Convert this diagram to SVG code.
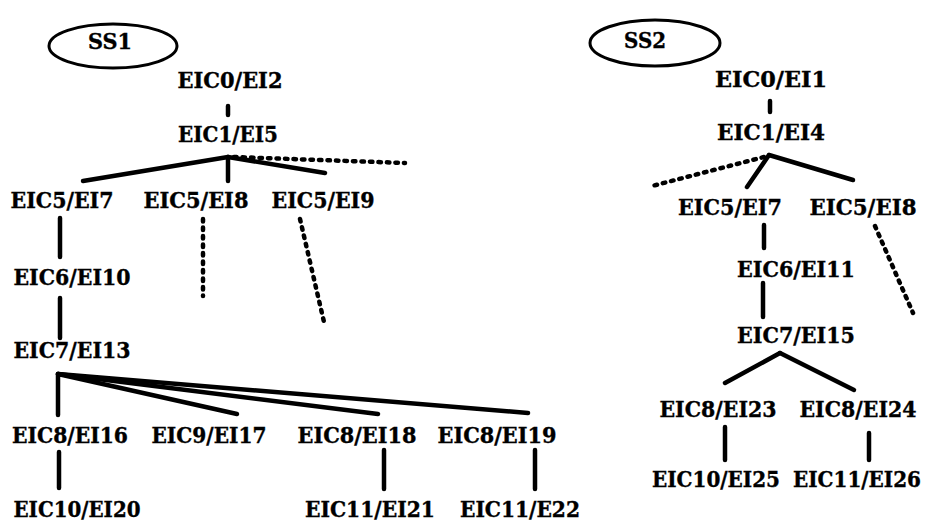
<svg xmlns="http://www.w3.org/2000/svg" width="935" height="522" viewBox="0 0 935 522">
<style>
text{font-family:"DejaVu Serif","Liberation Serif",serif;font-weight:bold;font-size:23px;fill:#000;text-anchor:middle;stroke:#000;stroke-width:0.4}
.s{stroke:#000;stroke-width:4.5;stroke-linecap:round;fill:none}
.d{stroke:#000;stroke-width:4.5;stroke-linecap:round;stroke-dasharray:2.5 6;fill:none}
ellipse{fill:none;stroke:#000;stroke-width:3}
</style>
<rect width="935" height="522" fill="#fff"/>
<g id="connectors">
<line class="s" x1="228" y1="106" x2="228" y2="115"/>
<line class="s" x1="228" y1="157" x2="83" y2="181"/>
<line class="s" x1="228" y1="157" x2="228" y2="181"/>
<line class="s" x1="228" y1="157" x2="325" y2="173"/>
<line class="d" x1="234" y1="157" x2="405" y2="163"/>
<line class="s" x1="60" y1="218" x2="60" y2="257"/>
<line class="s" x1="60" y1="298" x2="60" y2="338"/>
<line class="d" x1="203" y1="219" x2="203" y2="296"/>
<line class="d" x1="300" y1="219" x2="324" y2="322"/>
<line class="s" x1="58" y1="374" x2="58" y2="415"/>
<line class="s" x1="58" y1="374" x2="237" y2="414"/>
<line class="s" x1="58" y1="374" x2="378" y2="414"/>
<line class="s" x1="58" y1="374" x2="528" y2="413"/>
<line class="s" x1="59" y1="452" x2="59" y2="488"/>
<line class="s" x1="384" y1="450" x2="384" y2="489"/>
<line class="s" x1="535" y1="450" x2="535" y2="489"/>
<line class="s" x1="770" y1="101" x2="770" y2="112"/>
<line class="d" x1="764" y1="157" x2="652" y2="186"/>
<line class="s" x1="769" y1="155" x2="747" y2="187"/>
<line class="s" x1="769" y1="155" x2="853" y2="180"/>
<line class="s" x1="764" y1="225" x2="764" y2="248"/>
<line class="d" x1="875" y1="226" x2="913" y2="313"/>
<line class="s" x1="763" y1="283" x2="763" y2="317"/>
<line class="s" x1="780" y1="353" x2="725" y2="383"/>
<line class="s" x1="780" y1="353" x2="854" y2="390"/>
<line class="s" x1="725" y1="427" x2="725" y2="460"/>
<line class="s" x1="869" y1="433" x2="869" y2="460"/>
</g>
<g id="ss1"><ellipse cx="113" cy="46" rx="64" ry="22"/><text x="110" y="49" textLength="44" lengthAdjust="spacingAndGlyphs">SS1</text></g>
<g id="l-eic0-ei2"><text x="230" y="88" textLength="105" lengthAdjust="spacingAndGlyphs">EIC0/EI2</text></g>
<g id="l-eic1-ei5"><text x="228" y="142" textLength="100" lengthAdjust="spacingAndGlyphs">EIC1/EI5</text></g>
<g id="l-eic5-ei7"><text x="62" y="208" textLength="103" lengthAdjust="spacingAndGlyphs">EIC5/EI7</text></g>
<g id="l-eic5-ei8"><text x="196" y="208" textLength="105" lengthAdjust="spacingAndGlyphs">EIC5/EI8</text></g>
<g id="l-eic5-ei9"><text x="323" y="208" textLength="103" lengthAdjust="spacingAndGlyphs">EIC5/EI9</text></g>
<g id="l-eic6-ei10"><text x="72" y="285" textLength="117" lengthAdjust="spacingAndGlyphs">EIC6/EI10</text></g>
<g id="l-eic7-ei13"><text x="72" y="358" textLength="117" lengthAdjust="spacingAndGlyphs">EIC7/EI13</text></g>
<g id="l-eic8-ei16"><text x="70" y="443" textLength="116" lengthAdjust="spacingAndGlyphs">EIC8/EI16</text></g>
<g id="l-eic9-ei17"><text x="209" y="443" textLength="115" lengthAdjust="spacingAndGlyphs">EIC9/EI17</text></g>
<g id="l-eic8-ei18"><text x="357" y="443" textLength="119" lengthAdjust="spacingAndGlyphs">EIC8/EI18</text></g>
<g id="l-eic8-ei19"><text x="497" y="443" textLength="119" lengthAdjust="spacingAndGlyphs">EIC8/EI19</text></g>
<g id="l-eic10-ei20"><text x="77" y="517" textLength="127" lengthAdjust="spacingAndGlyphs">EIC10/EI20</text></g>
<g id="l-eic11-ei21"><text x="370" y="517" textLength="130" lengthAdjust="spacingAndGlyphs">EIC11/EI21</text></g>
<g id="l-eic11-e22"><text x="520" y="517" textLength="120" lengthAdjust="spacingAndGlyphs">EIC11/E22</text></g>
<g id="ss2"><ellipse cx="655" cy="43" rx="65" ry="23"/><text x="645" y="48" textLength="42" lengthAdjust="spacingAndGlyphs">SS2</text></g>
<g id="r-eic0-ei1"><text x="771" y="87" textLength="112" lengthAdjust="spacingAndGlyphs">EIC0/EI1</text></g>
<g id="r-eic1-ei4"><text x="771" y="140" textLength="108" lengthAdjust="spacingAndGlyphs">EIC1/EI4</text></g>
<g id="r-eic5-ei7"><text x="730" y="215" textLength="104" lengthAdjust="spacingAndGlyphs">EIC5/EI7</text></g>
<g id="r-eic5-ei8"><text x="863" y="215" textLength="107" lengthAdjust="spacingAndGlyphs">EIC5/EI8</text></g>
<g id="r-eic6-ei11"><text x="796" y="277" textLength="118" lengthAdjust="spacingAndGlyphs">EIC6/EI11</text></g>
<g id="r-eic7-ei15"><text x="796" y="343" textLength="118" lengthAdjust="spacingAndGlyphs">EIC7/EI15</text></g>
<g id="r-eic8-ei23"><text x="718" y="417" textLength="117" lengthAdjust="spacingAndGlyphs">EIC8/EI23</text></g>
<g id="r-eic8-ei24"><text x="858" y="417" textLength="117" lengthAdjust="spacingAndGlyphs">EIC8/EI24</text></g>
<g id="r-eic10-ei25"><text x="716" y="487" textLength="128" lengthAdjust="spacingAndGlyphs">EIC10/EI25</text></g>
<g id="r-eic11-ei26"><text x="857" y="487" textLength="128" lengthAdjust="spacingAndGlyphs">EIC11/EI26</text></g>
</svg>
